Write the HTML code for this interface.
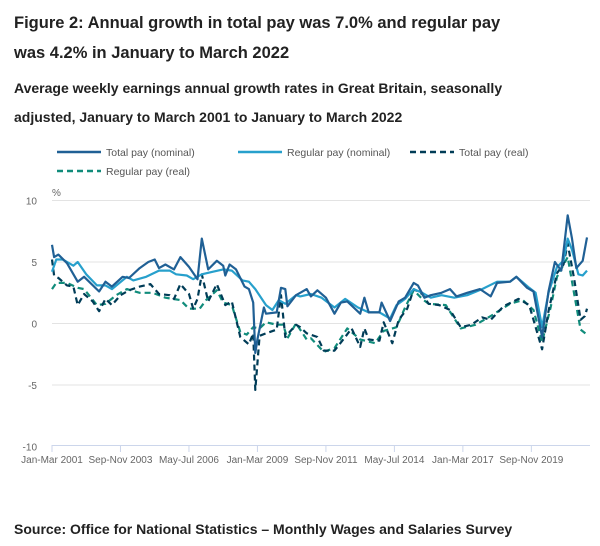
<!DOCTYPE html>
<html><head><meta charset="utf-8"><style>
body{margin:0;background:#fff;font-family:"Liberation Sans",sans-serif;}
.wrap{position:relative;width:600px;height:546px;overflow:hidden;}
.t{position:absolute;left:14px;font-weight:bold;color:#222;}
</style></head><body>
<div class="wrap">
<div class="t" style="top:8px;font-size:16.5px;line-height:30px;width:520px">Figure 2: Annual growth in total pay was 7.0% and regular pay was 4.2% in January to March 2022</div>
<div class="t" style="top:74px;font-size:14px;line-height:29px;width:525px">Average weekly earnings annual growth rates in Great Britain, seasonally adjusted, January to March 2001 to January to March 2022</div>
<div class="t" style="top:521px;font-size:14px;">Source: Office for National Statistics – Monthly Wages and Salaries Survey</div>
<svg id="c" width="600" height="546" style="position:absolute;left:0;top:0"></svg>
</div>
<script>
const xTickLabels=["Jan-Mar 2001","Sep-Nov 2003","May-Jul 2006","Jan-Mar 2009","Sep-Nov 2011","May-Jul 2014","Jan-Mar 2017","Sep-Nov 2019"];
const yTicks=[10,5,0,-5,-10];
const seriesNames=["Total pay (nominal)","Regular pay (nominal)","Total pay (real)","Regular pay (real)"];
const totalNomM=[0,1,3,7,12,15,22,25,28,33,36,41,45,48,50,53,57,60,64,68,70,73,77,80,81,83,86,90,92,94,95,96,99,100,105,107,109,110,114,116,119,121,124,128,132,135,138,144,146,148,153,154,158,162,165,169,171,174,177,182,186,189,194,200,205,208,214,217,222,225,229,232,235,238,241,243,245,248,250];
const totalNomV=[6.4,5.4,5.6,4.9,3.4,3.8,2.6,3.4,3.0,3.8,3.7,4.5,5.0,5.2,4.5,4.8,4.4,5.4,4.6,3.6,6.9,4.4,5.1,4.7,3.9,4.8,4.4,3.0,2.8,1.7,-2.4,-1.3,1.3,0.8,0.9,2.9,2.8,1.4,2.3,2.5,2.8,2.2,2.7,2.1,0.8,1.7,1.8,0.8,2.1,0.9,0.9,1.7,0.2,1.8,2.1,3.3,3.1,2.1,2.3,2.5,2.8,2.2,2.5,2.8,2.2,3.3,3.4,3.8,2.9,2.6,-1.1,2.6,5.0,4.3,8.8,6.9,4.5,5.1,7.0];
const regNomM=[0,2,5,10,12,16,21,25,28,35,38,44,50,55,58,63,66,70,75,80,84,89,92,95,100,103,106,109,114,116,121,126,132,137,143,148,153,158,161,165,169,173,177,182,188,194,201,208,214,217,223,226,229,232,236,239,241,243,246,248,250];
const regNomV=[4.2,5.2,5.2,4.7,5.0,4.0,3.1,3.1,2.8,3.8,3.5,3.8,4.3,4.3,4.0,3.9,3.6,4.0,4.2,4.4,4.3,3.5,3.4,2.8,1.5,1.1,1.9,1.6,2.3,2.2,2.4,2.1,1.3,2.0,1.3,0.9,0.9,0.4,1.5,2.0,2.8,2.5,2.1,2.3,2.1,2.3,2.8,3.4,3.4,3.8,2.9,2.5,-0.3,2.5,4.6,5.1,6.9,6.0,4.0,3.9,4.3];
const totalRealM=[0,1,3,7,10,12,15,19,22,25,28,32,36,41,46,50,55,57,60,64,66,68,70,73,77,81,84,88,92,94,95,97,100,105,107,109,114,116,119,124,127,132,137,140,144,146,148,153,155,159,162,166,169,173,176,181,186,191,196,201,205,211,218,223,229,232,236,239,241,244,247,249,250];
const totalRealV=[5.2,3.9,3.7,3.1,3.0,1.5,2.4,1.8,1.0,2.0,1.5,2.3,2.7,3.0,3.2,2.4,2.3,2.0,3.2,2.4,1.2,2.0,4.0,1.8,3.2,1.5,1.8,-1.1,-1.7,-0.8,-5.4,-1.0,-0.8,-0.5,2.3,-1.1,-0.1,-0.3,-0.8,-1.1,-2.2,-2.2,-1.1,-0.4,-1.9,-0.4,-1.3,-1.4,0.1,-1.6,0.3,1.2,2.8,2.4,1.6,1.5,1.1,-0.3,-0.1,0.5,0.3,1.4,2.0,1.5,-2.1,1.0,4.1,4.8,6.5,3.6,0.3,0.6,1.2];
const regRealM=[0,2,7,12,15,21,25,30,35,41,47,53,60,64,69,72,77,80,84,88,91,94,97,100,105,108,110,114,116,119,121,127,132,138,144,151,155,161,165,169,173,176,184,191,198,205,214,220,225,229,233,236,241,244,247,250];
const regRealV=[2.8,3.3,3.3,2.9,2.8,1.5,1.6,2.3,2.8,2.5,2.5,2.1,1.9,1.2,1.2,1.9,2.7,1.7,1.5,-0.7,-0.9,-0.3,-0.4,0.1,-0.1,-0.1,-1.2,0,-0.5,-1.3,-1.2,-2.3,-2.0,-0.4,-1.3,-1.6,-0.6,-0.3,1.3,2.7,2.0,1.6,1.5,-0.4,-0.1,0.6,1.6,1.9,1.1,-1.5,1.3,3.8,5.4,2.4,-0.5,-0.9];

const NS="http://www.w3.org/2000/svg";
const svg=document.getElementById('c');
const X0=52,PXM=2.14,Y0=323.5,PXU=12.3;
const xs=m=>X0+m*PXM, ys=v=>Y0-v*PXU;
function mk(tag,attrs,parent){const e=document.createElementNS(NS,tag);for(const k in attrs)e.setAttribute(k,attrs[k]);(parent||svg).appendChild(e);return e;}
yTicks.forEach(v=>{
  if(v!==-10){const g=mk('line',{x1:52,x2:590,y1:ys(v),y2:ys(v),stroke:'#e3e3e3','stroke-width':1});
  
  }
  const t=mk('text',{x:37,y:ys(v)+4,'text-anchor':'end','font-size':10,fill:'#666','font-family':'Liberation Sans, sans-serif'});
  t.textContent=v;
  
  
});
const pct=mk('text',{x:52,y:196,'font-size':10,fill:'#666'});pct.textContent='%';


const ax=mk('line',{x1:52,x2:590,y1:445.5,y2:445.5,stroke:'#ccd6eb','stroke-width':1});


xTickLabels.forEach((l,i)=>{
  const x=xs(i*32);
  mk('line',{x1:x,x2:x,y1:445,y2:452,stroke:'#ccd6eb'});
  const t=mk('text',{x:x,y:463,'text-anchor':'middle','font-size':10,fill:'#666'});
  t.textContent=l;
  
  
});
const styles=[{c:'#206095',d:''},{c:'#27a0cc',d:''},{c:'#003c57',d:'6,4'},{c:'#118c7b',d:'6,4'}];
const data=[[totalNomM,totalNomV],[regNomM,regNomV],[totalRealM,totalRealV],[regRealM,regRealV]];
const names=['line-total-pay-nominal','line-regular-pay-nominal','line-total-pay-real','line-regular-pay-real'];
[3,2,1,0].forEach(i=>{
  const [m,v]=data[i];
  const p=mk('polyline',{points:m.map((mm,j)=>xs(mm).toFixed(1)+','+ys(v[j]).toFixed(1)).join(' '),fill:'none',stroke:styles[i].c,'stroke-width':2.2,'stroke-dasharray':styles[i].d,'stroke-linejoin':'round'});
  
  
});
const leg=[[57,152],[238,152],[410,152],[57,171]];
seriesNames.forEach((n,i)=>{
  const [x,y]=leg[i];
  const g=mk('g',{});
  
  
  mk('line',{x1:x,x2:x+44,y1:y,y2:y,stroke:styles[i].c,'stroke-width':2.5,'stroke-dasharray':styles[i].d},g);
  const t=mk('text',{x:x+49,y:y+4,'font-size':10.5,fill:'#555'},g);t.textContent=n;
});
</script>
</body></html>
